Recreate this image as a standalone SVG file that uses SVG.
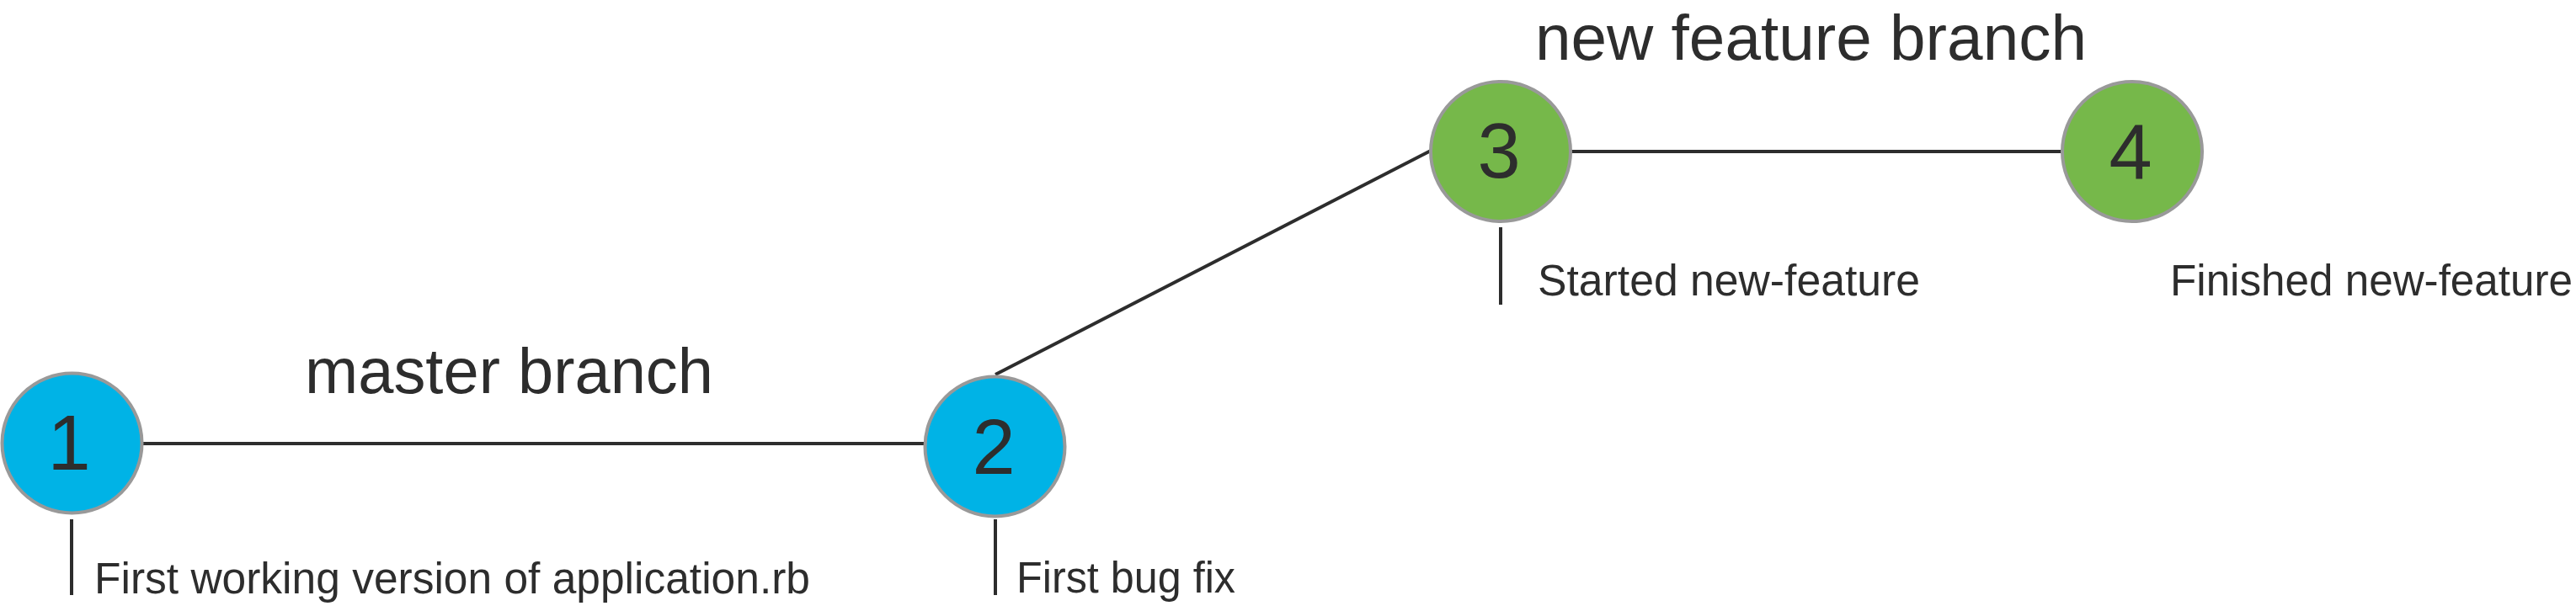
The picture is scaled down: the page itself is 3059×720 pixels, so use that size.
<svg xmlns="http://www.w3.org/2000/svg" width="3059" height="720" viewBox="0 0 3059 720">
<style>
.bg{fill:#ffffff}
.edge{stroke:#2d2d2d;stroke-width:4;fill:none}
.tick{stroke:#2d2d2d;stroke-width:4;fill:none}
.master{fill:#00b3e6;stroke:#999999;stroke-width:4}
.feature{fill:#76b84a;stroke:#999999;stroke-width:4}
text{font-family:"Liberation Sans",Arial,sans-serif;fill:#2d2d2d}
.num{font-size:92px;text-anchor:middle}
.branch{font-size:76px}
.note{font-size:51px}
</style>
<rect class="bg" x="0" y="0" width="3059" height="720"/>
<g id="connectors">
  <line class="edge" x1="170" y1="527" x2="1097" y2="527"/>
  <line class="edge" x1="1182" y1="445" x2="1699" y2="179"/>
  <line class="edge" x1="1866" y1="180" x2="2448" y2="180"/>
</g>
<g id="label-master">
  <text class="branch" x="362" y="467" textLength="485" lengthAdjust="spacingAndGlyphs">master branch</text>
</g>
<g id="label-feature">
  <text class="branch" x="1823" y="71" textLength="655" lengthAdjust="spacingAndGlyphs">new feature branch</text>
</g>
<g id="node1">
  <circle class="master" cx="85.5" cy="526.5" r="83"/>
  <text class="num" x="82" y="558">1</text>
  <line class="tick" x1="85" y1="617" x2="85" y2="707"/>
  <text class="note" x="112" y="705" textLength="850" lengthAdjust="spacingAndGlyphs">First working version of application.rb</text>
</g>
<g id="node2">
  <circle class="master" cx="1181.5" cy="530.5" r="83"/>
  <text class="num" x="1180" y="563">2</text>
  <line class="tick" x1="1182" y1="617" x2="1182" y2="707"/>
  <text class="note" x="1207" y="704" textLength="260" lengthAdjust="spacingAndGlyphs">First bug fix</text>
</g>
<g id="node3">
  <circle class="feature" cx="1782" cy="180" r="83"/>
  <text class="num" x="1780" y="211">3</text>
  <line class="tick" x1="1782" y1="270" x2="1782" y2="362"/>
  <text class="note" x="1826" y="351" textLength="454" lengthAdjust="spacingAndGlyphs">Started new-feature</text>
</g>
<g id="node4">
  <circle class="feature" cx="2532" cy="180" r="83"/>
  <text class="num" x="2530" y="212">4</text>
  <text class="note" x="2577" y="351" textLength="478" lengthAdjust="spacingAndGlyphs">Finished new-feature</text>
</g>
</svg>
